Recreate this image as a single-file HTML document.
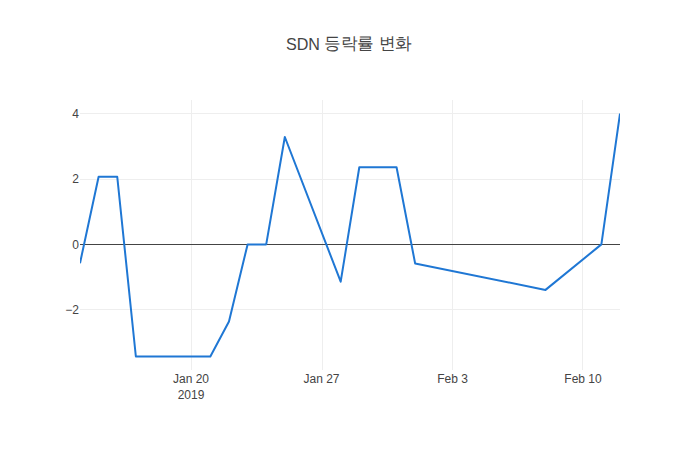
<!DOCTYPE html>
<html><head><meta charset="utf-8">
<style>
html,body{margin:0;padding:0;background:#fff;}
body{width:700px;height:450px;overflow:hidden;font-family:"Liberation Sans",sans-serif;}
svg{display:block;}
text{font-family:"Liberation Sans",sans-serif;fill:#444;}
</style></head><body>
<svg width="700" height="450" viewBox="0 0 700 450" xmlns="http://www.w3.org/2000/svg">
<rect x="0" y="0" width="700" height="450" fill="#fff"/>
<g stroke="#eee" stroke-width="1" fill="none" shape-rendering="crispEdges">
<path d="M191.5,100V370M322.5,100V370M452.5,100V370M582.5,100V370"/>
<path d="M80,113.5H620M80,179.5H620M80,309.5H620"/>
</g>
<path d="M80,244.5H620" stroke="#444" stroke-width="1" shape-rendering="crispEdges"/>
<svg x="80" y="100" width="540" height="270" viewBox="80 100 540 270" overflow="hidden">
<polyline points="80.00,263.20 98.62,176.75 117.24,176.75 135.86,356.50 210.34,356.50 228.97,321.50 247.59,244.40 266.21,244.40 284.83,137.00 340.69,281.70 359.31,167.25 396.55,167.25 415.17,263.60 545.52,289.90 601.38,244.40 620.00,113.60" fill="none" stroke="#1f77d4" stroke-width="2" stroke-linejoin="round"/>
</svg>
<g font-size="12" text-anchor="end">
<text x="79" y="117.5">4</text>
<text x="79" y="182.5">2</text>
<text x="79" y="248.5">0</text>
<text x="79" y="313.5">&#8722;2</text>
</g>
<g font-size="12" text-anchor="middle">
<text x="191" y="383">Jan 20</text>
<text x="191" y="399">2019</text>
<text x="321.5" y="383">Jan 27</text>
<text x="452.5" y="383">Feb 3</text>
<text x="583" y="383">Feb 10</text>
</g>
<text x="286" y="50" font-size="17" textLength="34" lengthAdjust="spacingAndGlyphs">SDN</text>
<text x="324" y="49.4" font-size="17" textLength="88" lengthAdjust="spacingAndGlyphs">등락률 변화</text>
</svg>
</body></html>
